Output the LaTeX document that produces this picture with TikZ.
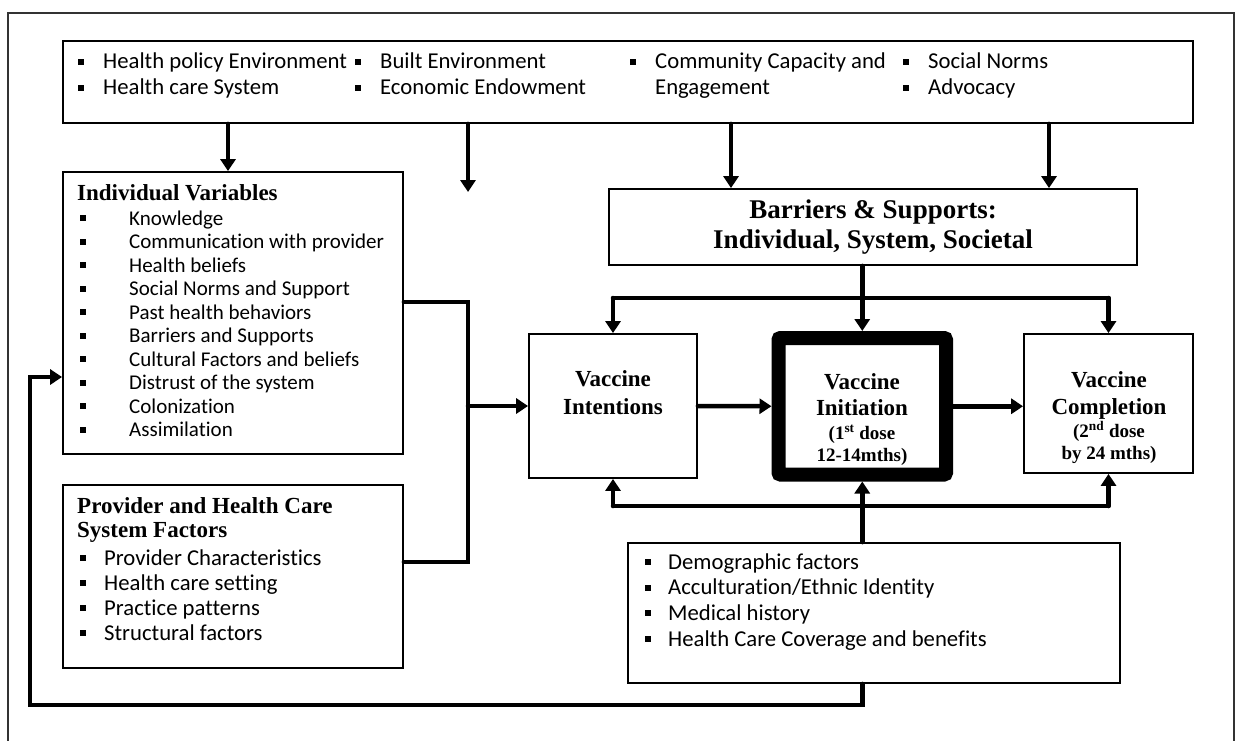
\documentclass[tikz,border=0pt]{standalone}
\usepackage{fontspec}
\setmainfont{Liberation Serif}
\newfontfamily\calfont[Ligatures=NoCommon]{Carlito}
\usetikzlibrary{arrows.meta}

% square bullet hung to the left of an item; #1 = gap (pt) between bullet and text
\newcommand\bul[1]{\llap{\rule[4pt]{6pt}{6pt}\hspace{#1pt}}}

\begin{document}
\begin{tikzpicture}[x=1pt,y=-1pt,
  box/.style={draw=black, line width=1.8pt, inner sep=0pt, fill=white},
  conn/.style={line width=4.5pt, line cap=round, draw=black},
  arr/.style={conn, -{Triangle[width=15pt,length=12pt]}},
  hd/.style={font=\bfseries\fontsize{23}{27}\selectfont, inner sep=0pt, anchor=base west},
  vt/.style={font=\bfseries\fontsize{23}{28}\selectfont, inner sep=0pt, anchor=base},
  vs/.style={font=\bfseries\fontsize{19}{22}\selectfont, inner sep=0pt, anchor=base},
  li/.style={font=\calfont\fontsize{22.7}{26}\selectfont, inner sep=0pt, anchor=base west},
  lis/.style={font=\calfont\fontsize{21}{24}\selectfont, inner sep=0pt, anchor=base west}]

\fill[white] (0,0) rectangle (1236,741);
\useasboundingbox (0,0) rectangle (1236,741);

% outer frame
\draw[line width=2.5pt, black!80] (8,760) -- (8,13) -- (1234,13) -- (1234,760);

% boxes
\node[box, minimum width=1130, minimum height=82] (env) at (628,82) {};
\node[box, minimum width=340, minimum height=282] (indiv) at (233,313) {};
\node[box, minimum width=340, minimum height=183] (prov) at (233,576.5) {};
\node[box, minimum width=528, minimum height=76, align=center,
      font=\bfseries\fontsize{27}{30}\selectfont] (barr) at (873,227)
      {Barriers \& Supports:\\Individual, System, Societal};
\node[box, minimum width=168, minimum height=144] (intent) at (613,406) {};
\node[draw=black, line width=14pt, rounded corners=2pt, inner sep=0pt, fill=white,
      minimum width=167.5, minimum height=136.5] (init) at (862.25,406.25) {};
\node[box, minimum width=169, minimum height=139] (compl) at (1108.5,403.5) {};
\node[box, minimum width=492, minimum height=140] (demo) at (874,613) {};

% environment factors
\node[li] (e1) at (103,69) {\bul{19}Health policy Environment};
\node[li] (e2) at (103,95) {\bul{19}Health care System};
\node[li] (e3) at (380,69) {\bul{19}Built Environment};
\node[li] (e4) at (380,95) {\bul{19}Economic Endowment};
\node[li] (e5) at (655,69) {\bul{19}Community Capacity and};
\node[li] (e6) at (655,95) {Engagement};
\node[li] (e7) at (928,69) {\bul{19}Social Norms};
\node[li] (e8) at (928,95) {\bul{19}Advocacy};

% individual variables
\node[hd] (ivt) at (77,200) {Individual Variables};
\foreach \t [count=\i from 0] in {Knowledge, Communication with provider,
    Health beliefs, Social Norms and Support, Past health behaviors,
    Barriers and Supports, Cultural Factors and beliefs,
    Distrust of the system, Colonization, Assimilation}
  \node[lis] (iv\i) at (129,{225+23.5*\i}) {\bul{43}\t};

% provider and health care system factors
\node[hd] (pvt1) at (77,513) {Provider and Health Care};
\node[hd] (pvt2) at (77,537) {System Factors};
\foreach \t [count=\i from 0] in {Provider Characteristics, Health care setting,
    Practice patterns, Structural factors}
  \node[li] (pv\i) at (104,{565+25*\i}) {\bul{18}\t};

% demographic factors
\foreach \t [count=\i from 0] in {Demographic factors, Acculturation/Ethnic Identity,
    Medical history, Health Care Coverage and benefits}
  \node[li] (dm\i) at (668,{569+25.7*\i}) {\bul{17}\t};

% vaccine stages
\node[vt] (in1) at (613,386) {Vaccine};
\node[vt] (in2) at (613,414) {Intentions};
\node[vt] (it1) at (862,389) {Vaccine};
\node[vt] (it2) at (862,415) {Initiation};
\node[vs] (it3) at (862,439) {(1\textsuperscript{st} dose};
\node[vs] (it4) at (862,461) {12-14mths)};
\node[vt] (cp1) at (1109,387) {Vaccine};
\node[vt] (cp2) at (1109,414) {Completion};
\node[vs] (cp3) at (1109,437) {(2\textsuperscript{nd} dose};
\node[vs] (cp4) at (1109,459) {by 24 mths)};

% helper coordinates for connector routes
\coordinate (xA) at (228,0);
\coordinate (xB) at (468,0);
\coordinate (xC) at (731,0);
\coordinate (xD) at (1049,0);
\coordinate (xF) at (30,0);
\coordinate (yTop) at (0,298);
\coordinate (yBot) at (0,506);
\coordinate (yIv) at (0,302);
\coordinate (yPv) at (0,562);
\coordinate (yFb) at (0,377);
\coordinate (yLow) at (0,705);
\coordinate (free) at (468,192);

% environment arrows
\draw[arr] (xA |- env.south) -- (xA |- indiv.north);
\draw[arr] (xB |- env.south) -- (free);
\draw[arr] (xC |- env.south) -- (xC |- barr.north);
\draw[arr] (xD |- env.south) -- (xD |- barr.north);

% barriers fan-out
\draw[conn] (intent.north |- yTop) -- (compl.north |- yTop);
\draw[arr] (init.north |- barr.south) -- (init.north);
\draw[arr] (intent.north |- yTop) -- (intent.north);
\draw[arr] (compl.north |- yTop) -- (compl.north);

% individual and provider factors into intentions
\draw[conn] (indiv.east |- yIv) -- (xB |- yIv) -- (xB |- yPv) -- (prov.east |- yPv);
\draw[arr] (xB |- intent.west) -- (intent.west);

% stage sequence
\draw[arr] (intent.east) -- (init.west);
\draw[arr] (init.east) -- (init.east -| compl.west);

% demographic factors fan-in
\draw[conn] (init.south |- demo.north) -- (init.south |- yBot);
\draw[conn] (intent.south |- yBot) -- (compl.south |- yBot);
\draw[arr] (intent.south |- yBot) -- (intent.south);
\draw[arr] (init.south |- yBot) -- (init.south);
\draw[arr] (compl.south |- yBot) -- (compl.south);

% feedback loop to individual variables
\draw[arr] (init.south |- demo.south) -- (init.south |- yLow) -- (xF |- yLow)
  -- (xF |- yFb) -- (indiv.west |- yFb);
\end{tikzpicture}
\end{document}
